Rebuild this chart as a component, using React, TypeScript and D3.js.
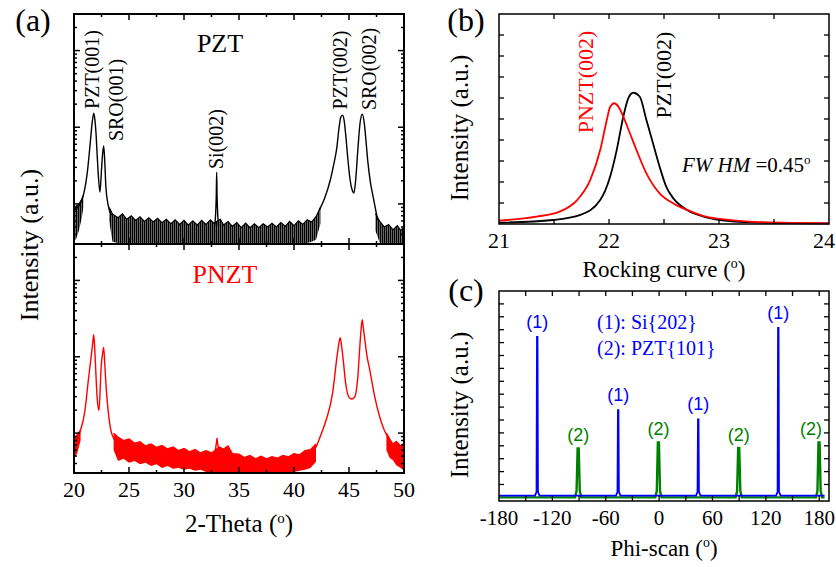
import React from "react"
import * as d3 from "d3"

// ---------- (a) theta-2theta scans, [2theta, counts] ----------
const pztLeft: number[][] = [[20.0, 8.3], [20.5, 9.7], [20.9, 13.8], [21.2, 25], [21.5, 68], [21.65, 115], [21.8, 153], [21.9, 125], [22.0, 84], [22.1, 45], [22.2, 25], [22.36, 14.3], [22.5, 28], [22.6, 45], [22.7, 57], [22.8, 35], [22.9, 16.6], [23.1, 9.7], [23.4, 7.1]]
const pztSi: number[][] = [[32.8, 5.2], [32.93, 12], [32.97, 26], [33.01, 12], [33.14, 5.2]]
const pztRight: number[][] = [[42.3, 8.3], [42.8, 12], [43.3, 20.5], [43.6, 32], [43.9, 55], [44.1, 100], [44.25, 135], [44.4, 144], [44.55, 125], [44.7, 80], [44.9, 38], [45.1, 20.5], [45.3, 15], [45.45, 13.9], [45.6, 20], [45.8, 50], [46.0, 112], [46.2, 148], [46.4, 110], [46.55, 65], [46.7, 37], [46.95, 19], [47.2, 12.3], [47.6, 6.2]]
// noise envelope [2theta, low, high]
const pztNoiseLeft: number[][] = [[20.0, 3.2, 8.8], [20.2, 3.5, 9.4], [20.45, 4.5, 9.9], [20.7, 6.5, 11.5], [20.85, 9, 13]]
const pztNoiseMid: number[][] = [[23.2, 6, 9], [23.5, 3.2, 7.4], [24, 3.1, 6.6], [24.4, 3.1, 7.4], [24.8, 3.1, 6.3], [25.2, 3.1, 7.0], [25.6, 3.1, 6.1], [26, 3.1, 6.8], [26.4, 3.1, 5.9], [26.8, 3.1, 6.6], [27.2, 3.1, 5.8], [27.6, 3.1, 6.5], [28, 3.1, 5.7], [28.4, 3.1, 6.3], [28.8, 3.1, 5.5], [29.2, 3.1, 6.2], [29.6, 3.1, 5.4], [30, 3.1, 6.1], [30.4, 3.1, 5.3], [30.8, 3.1, 6.0], [31.2, 3.1, 5.3], [31.6, 3.1, 6.1], [32, 3.1, 5.4], [32.4, 3.1, 6.2], [32.7, 3.1, 5.6], [33.3, 3.1, 6.3], [33.6, 3.1, 5.3], [34, 3.1, 5.9], [34.4, 3.1, 5.1], [34.8, 3.1, 5.7], [35.2, 3.1, 4.9], [35.6, 3.1, 5.6], [36, 3.1, 4.9], [36.4, 3.1, 5.5], [36.8, 3.1, 4.9], [37.2, 3.1, 5.5], [37.6, 3.1, 5.0], [38, 3.1, 5.6], [38.4, 3.1, 5.0], [38.8, 3.1, 5.7], [39.2, 3.1, 5.1], [39.6, 3.1, 5.9], [40, 3.1, 5.2], [40.4, 3.1, 6.0], [40.8, 3.1, 5.4], [41.2, 3.1, 6.2], [41.6, 3.2, 5.8], [42, 3.4, 6.8], [42.4, 5.5, 9]]
const pztNoiseRight: number[][] = [[47.4, 4.5, 7.5], [47.8, 3.1, 5.9], [48.2, 3.1, 5.0], [48.6, 3.1, 5.4], [49, 3.1, 4.6], [49.4, 3.1, 5.2], [49.7, 3.1, 4.5], [50, 3.1, 5.0]]

const pnztLeft: number[][] = [[20.0, 6.5], [20.5, 9.9], [21.0, 19.8], [21.3, 48.8], [21.55, 98], [21.7, 150], [21.79, 194], [21.87, 140], [21.95, 81], [22.1, 29.6], [22.27, 19.8], [22.37, 35], [22.45, 66], [22.6, 110], [22.7, 132], [22.8, 80], [22.9, 44.6], [23.1, 19.8], [23.3, 11.9], [23.7, 8.1]]
const pnztSi: number[][] = [[32.85, 6], [32.95, 7.5], [33.0, 8.6], [33.05, 7.5], [33.15, 6]]
const pnztRight: number[][] = [[42.0, 6.5], [42.6, 10.9], [43.0, 16.1], [43.5, 32.8], [43.9, 98], [44.05, 140], [44.2, 178], [44.32, 140], [44.45, 98], [44.7, 44.6], [45.0, 29.4], [45.25, 28], [45.5, 29.4], [45.8, 54], [46.0, 147], [46.1, 230], [46.2, 305], [46.3, 240], [46.45, 163], [46.6, 110], [46.9, 66], [47.3, 32], [47.8, 16.1], [48.2, 11], [48.7, 8.1]]
const pnztNoiseLeft: number[][] = [[20.0, 4.6, 8.6], [20.3, 5.5, 9.5], [20.6, 8, 11]]
const pnztNoiseMid: number[][] = [[23.6, 6, 10], [24, 4.3, 8.9], [24.5, 4.6, 8.0], [25, 4.1, 8.4], [25.5, 4.3, 7.4], [26, 3.9, 7.7], [26.5, 4.1, 6.8], [27, 3.7, 7.2], [27.5, 3.9, 6.5], [28, 3.5, 6.9], [28.5, 3.7, 6.2], [29, 3.4, 6.6], [29.5, 3.5, 5.9], [30, 3.3, 6.3], [30.5, 3.4, 5.7], [31, 3.2, 6.1], [31.5, 3.3, 5.5], [32, 3.1, 5.9], [32.5, 3.1, 5.5], [33.2, 3.1, 6.6], [33.6, 3.1, 6.2], [34, 3.1, 6.8], [34.4, 3.05, 5.4], [35, 3.0, 5.3], [35.5, 3.0, 4.8], [36, 3.0, 5.1], [36.5, 3.0, 4.6], [37, 3.0, 5.0], [37.5, 3.0, 4.6], [38, 3.0, 4.9], [38.5, 3.0, 4.7], [39, 3.0, 5.1], [39.5, 3.05, 4.9], [40, 3.1, 5.4], [40.5, 3.2, 5.2], [41, 3.3, 5.9], [41.5, 3.5, 6.1], [42, 4.2, 7.2]]
const pnztNoiseRight: number[][] = [[48.4, 6, 10], [48.7, 4.7, 8.4], [49.0, 4.4, 7.2], [49.3, 3.8, 7.8], [49.7, 3.5, 6.8], [50, 3.2, 7.4]]

// ---------- (b) rocking curves, [omega, intensity] ----------
const rockPzt: number[][] = [[21.0, 0.006], [21.49, 0.019], [21.74, 0.043], [21.92, 0.114], [22.01, 0.225], [22.07, 0.352], [22.13, 0.511], [22.175, 0.598], [22.22, 0.625], [22.28, 0.606], [22.34, 0.495], [22.40, 0.384], [22.46, 0.273], [22.52, 0.178], [22.585, 0.122], [22.71, 0.067], [22.86, 0.035], [23.01, 0.019], [23.31, 0.008], [24.0, 0.003]]
const rockPnzt: number[][] = [[21.0, 0.016], [21.34, 0.035], [21.55, 0.059], [21.71, 0.114], [21.83, 0.21], [21.92, 0.352], [21.98, 0.495], [22.01, 0.557], [22.05, 0.575], [22.085, 0.559], [22.13, 0.511], [22.19, 0.432], [22.25, 0.352], [22.34, 0.241], [22.46, 0.146], [22.585, 0.098], [22.71, 0.067], [22.86, 0.038], [23.01, 0.024], [23.31, 0.01], [24.0, 0.003]]

// ---------- (c) phi scan peaks ----------
const siPhi = [-137, -46, 44, 134]
const siHeight = [6.22, 3.38, 3.02, 6.57]
const pztPhi = [-91, -0.8, 89.5, 179.8]
const pztHeight = [1.9, 2.13, 1.92, 2.13]

const ticksA = [20, 25, 30, 35, 40, 45, 50]
const ticksB = [21, 22, 23, 24]
const ticksC = [-180, -120, -60, 0, 60, 120, 180]

const serif = "'Liberation Serif', 'Times New Roman', Times, serif"
const sans = "'Liberation Sans', Arial, sans-serif"

function Deg({ size }: { size: number }) {
  return (
    <>
      (<tspan dy={-size * 0.38} fontSize={size * 0.6}>o</tspan>
      <tspan dy={size * 0.38}>)</tspan>
    </>
  )
}

function logTicks(domain: number[]) {
  const out: { v: number; major: boolean }[] = []
  for (let n = -1; n < 5; n++) {
    for (let k = 1; k < 10; k++) {
      const v = k * Math.pow(10, n)
      if (v >= domain[0] && v <= domain[1]) out.push({ v, major: k === 1 })
    }
  }
  return out
}

function PanelA() {
  const x = d3.scaleLinear().domain([20, 50]).range([74, 404])
  const yTop = d3.scaleLog().domain([3, 3000]).range([244, 14])
  const yBot = d3.scaleLog().domain([3, 3000]).range([473, 244])
  const mk = (y: d3.ScaleLogarithmic<number, number>) => ({
    line: d3.line<number[]>().x(d => x(d[0])).y(d => y(d[1])).curve(d3.curveMonotoneX),
    area: d3.area<number[]>().x(d => x(d[0])).y0(d => y(d[1])).y1(d => y(d[2])),
    edge: d3.line<number[]>().x(d => x(d[0])).y(d => y(d[2])),
  })
  const t = mk(yTop)
  const b = mk(yBot)
  const xMinor = d3.range(22.5, 50, 5)
  const lt = logTicks([3, 3000])
  return (
    <g>
      <defs>
        <clipPath id="clipTop"><rect x={74} y={14} width={330} height={230} /></clipPath>
        <clipPath id="clipBot"><rect x={74} y={244} width={330} height={229} /></clipPath>
        <pattern id="noiseK" width={2} height={4} patternUnits="userSpaceOnUse">
          <rect width={2} height={4} fill="#000" fillOpacity={0.6} />
          <rect width={1} height={4} fill="#000" />
        </pattern>
      </defs>
      <g clipPath="url(#clipTop)">
        {[pztNoiseLeft, pztNoiseMid, pztNoiseRight].map((d, i) => (
          <g key={i}>
            <path d={t.area(d) || ""} fill="url(#noiseK)" />
            <path d={t.edge(d) || ""} fill="none" stroke="#000" strokeWidth={1.2} />
          </g>
        ))}
        {[pztLeft, pztSi, pztRight].map((d, i) => (
          <path key={i} d={t.line(d) || ""} fill="none" stroke="#000" strokeWidth={1.4} />
        ))}
      </g>
      <g clipPath="url(#clipBot)">
        {[pnztNoiseLeft, pnztNoiseMid, pnztNoiseRight].map((d, i) => (
          <g key={i}>
            <path d={b.area(d) || ""} fill="#ff0000" />
            <path d={b.edge(d) || ""} fill="none" stroke="#ff0000" strokeWidth={1.2} />
          </g>
        ))}
        {[pnztLeft, pnztSi, pnztRight].map((d, i) => (
          <path key={i} d={b.line(d) || ""} fill="none" stroke="#ff0000" strokeWidth={1.4} />
        ))}
      </g>
      {/* ticks */}
      <g stroke="#000" strokeWidth={1.5}>
        {ticksA.slice(1, -1).map(v => (
          <g key={v}>
            <line x1={x(v)} x2={x(v)} y1={14} y2={20} />
            <line x1={x(v)} x2={x(v)} y1={238} y2={250} />
            <line x1={x(v)} x2={x(v)} y1={473} y2={467} />
          </g>
        ))}
        {xMinor.map(v => (
          <g key={v}>
            <line x1={x(v)} x2={x(v)} y1={14} y2={17} />
            <line x1={x(v)} x2={x(v)} y1={241} y2={247} />
            <line x1={x(v)} x2={x(v)} y1={473} y2={470} />
          </g>
        ))}
        {[yTop, yBot].map((y, j) =>
          lt.map(({ v, major }) => (
            <g key={j + "-" + v}>
              <line x1={74} x2={74 + (major ? 6 : 3)} y1={y(v)} y2={y(v)} />
              <line x1={404} x2={404 - (major ? 6 : 3)} y1={y(v)} y2={y(v)} />
            </g>
          ))
        )}
      </g>
      <rect x={74} y={14} width={330} height={459} fill="none" stroke="#000" strokeWidth={2} />
      <line x1={74} x2={404} y1={244} y2={244} stroke="#000" strokeWidth={2} />
      <g fontFamily={serif} fontSize={22} textAnchor="middle">
        {ticksA.map(v => (
          <text key={v} x={x(v)} y={497}>{v}</text>
        ))}
      </g>
      <text x={239} y={532} fontFamily={serif} fontSize={25} textAnchor="middle">2-Theta <Deg size={25} /></text>
      <text transform="translate(38,245) rotate(-90)" fontFamily={serif} fontSize={26} textAnchor="middle">Intensity (a.u.)</text>
      <text x={33} y={31} fontFamily={serif} fontSize={32} textAnchor="middle">(a)</text>
      <text x={220} y={52} fontFamily={serif} fontSize={26} textAnchor="middle">PZT</text>
      <text x={225} y={283} fontFamily={serif} fontSize={26} textAnchor="middle" fill="#ff0000">PNZT</text>
      <g fontFamily={serif} fontSize={20} textAnchor="middle">
        <text transform="translate(99,69.5) rotate(-90)">PZT(001)</text>
        <text transform="translate(123,100) rotate(-90)">SRO(001)</text>
        <text transform="translate(223,139) rotate(-90)">Si(002)</text>
        <text transform="translate(347,70) rotate(-90)">PZT(002)</text>
        <text transform="translate(376,69) rotate(-90)">SRO(002)</text>
      </g>
    </g>
  )
}

function PanelB() {
  const x = d3.scaleLinear().domain([21, 24]).range([499, 829])
  const y = d3.scaleLinear().domain([0, 1]).range([224, 14])
  const line = d3.line<number[]>().x(d => x(d[0])).y(d => y(d[1])).curve(d3.curveMonotoneX)
  const xt = d3.range(21.5, 24, 0.5)
  const yt = d3.range(1, 10).map(i => i / 10)
  return (
    <g>
      <path d={line(rockPzt) || ""} fill="none" stroke="#000" strokeWidth={1.8} />
      <path d={line(rockPnzt) || ""} fill="none" stroke="#ff0000" strokeWidth={1.8} />
      <g stroke="#000" strokeWidth={1.3}>
        {xt.map(v => (
          <g key={v}>
            <line x1={x(v)} x2={x(v)} y1={224} y2={219} />
            <line x1={x(v)} x2={x(v)} y1={14} y2={19} />
          </g>
        ))}
        {yt.map(v => (
          <g key={v}>
            <line x1={499} x2={504} y1={y(v)} y2={y(v)} />
            <line x1={829} x2={824} y1={y(v)} y2={y(v)} />
          </g>
        ))}
      </g>
      <rect x={499} y={14} width={330} height={210} fill="none" stroke="#000" strokeWidth={1.5} />
      <g fontFamily={serif} fontSize={22} textAnchor="middle">
        {ticksB.map(v => (
          <text key={v} x={Math.min(x(v), 824)} y={248}>{v}</text>
        ))}
      </g>
      <text x={664} y={277} fontFamily={serif} fontSize={23} textAnchor="middle">Rocking curve <Deg size={23} /></text>
      <text transform="translate(468,128) rotate(-90)" fontFamily={serif} fontSize={25} textAnchor="middle">Intensity (a.u.)</text>
      <text x={466} y={31} fontFamily={serif} fontSize={32} textAnchor="middle">(b)</text>
      <text transform="translate(593,82) rotate(-90)" fontFamily={serif} fontSize={22} textAnchor="middle" fill="#ff0000">PNZT(002)</text>
      <text transform="translate(671,75) rotate(-90)" fontFamily={serif} fontSize={22} textAnchor="middle">PZT(002)</text>
      <text x={682} y={172} fontFamily={serif} fontSize={21}>
        <tspan fontStyle="italic">FW HM</tspan> =0.45<tspan dy={-8} fontSize={13}>o</tspan>
      </text>
    </g>
  )
}

function PanelC() {
  const x = d3.scaleLinear().domain([-180, 191]).range([499, 829])
  const y = d3.scaleLinear().domain([-0.14, 8]).range([501, 291])
  const line = d3.line<number[]>().x(d => x(d[0])).y(d => y(d[1]))
  const blueBase = 0.07
  const bluePts: number[][] = [[-180, blueBase]]
  siPhi.forEach((c, i) => {
    bluePts.push([c - 2.5, blueBase], [c - 0.8, blueBase + 0.15], [c - 0.3, siHeight[i]], [c + 0.3, siHeight[i]], [c + 0.8, blueBase + 0.15], [c + 2.5, blueBase])
  })
  bluePts.push([186, blueBase])
  const greenPts: number[][] = [[-180, 0]]
  pztPhi.forEach((c, i) => {
    greenPts.push([c - 3.5, 0], [c - 1.8, 0.25], [c - 0.6, pztHeight[i]], [c + 0.6, pztHeight[i]], [c + 1.8, 0.25], [c + 3.5, 0])
  })
  greenPts.push([186, 0])
  const xt = d3.range(-150, 191, 30)
  const yt = d3.range(0.5, 8, 0.5)
  return (
    <g>
      <path d={line(greenPts) || ""} fill="none" stroke="#008000" strokeWidth={2.4} />
      <path d={line(bluePts) || ""} fill="none" stroke="#0000ff" strokeWidth={1.8} />
      <g stroke="#000" strokeWidth={1.3}>
        {xt.map(v => (
          <g key={v}>
            <line x1={x(v)} x2={x(v)} y1={501} y2={496} />
            <line x1={x(v)} x2={x(v)} y1={291} y2={296} />
          </g>
        ))}
        {yt.map(v => (
          <g key={v}>
            <line x1={499} x2={504} y1={y(v)} y2={y(v)} />
            <line x1={829} x2={824} y1={y(v)} y2={y(v)} />
          </g>
        ))}
      </g>
      <rect x={499} y={291} width={330} height={210} fill="none" stroke="#000" strokeWidth={1.5} />
      <g fontFamily={sans} fontSize={18} textAnchor="middle">
        {siPhi.map((c, i) => (
          <text key={c} x={x(c)} y={y(siHeight[i]) - 9} fill="#0000ff">(1)</text>
        ))}
        {pztPhi.map((c, i) => (
          <text key={c} x={Math.min(x(c), 811)} y={y(pztHeight[i]) - 7} fill="#008000">(2)</text>
        ))}
      </g>
      <g fontFamily={serif} fontSize={20} fill="#0000ff">
        <text x={597} y={329}>(1): Si{"{202}"}</text>
        <text x={597} y={355}>(2): PZT{"{101}"}</text>
      </g>
      <g fontFamily={serif} fontSize={21} textAnchor="middle">
        {ticksC.map(v => (
          <text key={v} x={x(v)} y={525}>{v}</text>
        ))}
      </g>
      <text x={664} y={556} fontFamily={serif} fontSize={23} textAnchor="middle">Phi-scan <Deg size={23} /></text>
      <text transform="translate(468,405) rotate(-90)" fontFamily={serif} fontSize={25} textAnchor="middle">Intensity (a.u.)</text>
      <text x={466} y={301} fontFamily={serif} fontSize={32} textAnchor="middle">(c)</text>
    </g>
  )
}

export default function App() {
  return (
    <svg width={836} height={567} style={{ position: "absolute", left: 0, top: 0, background: "#fff" }}>
      <PanelA />
      <PanelB />
      <PanelC />
    </svg>
  )
}
